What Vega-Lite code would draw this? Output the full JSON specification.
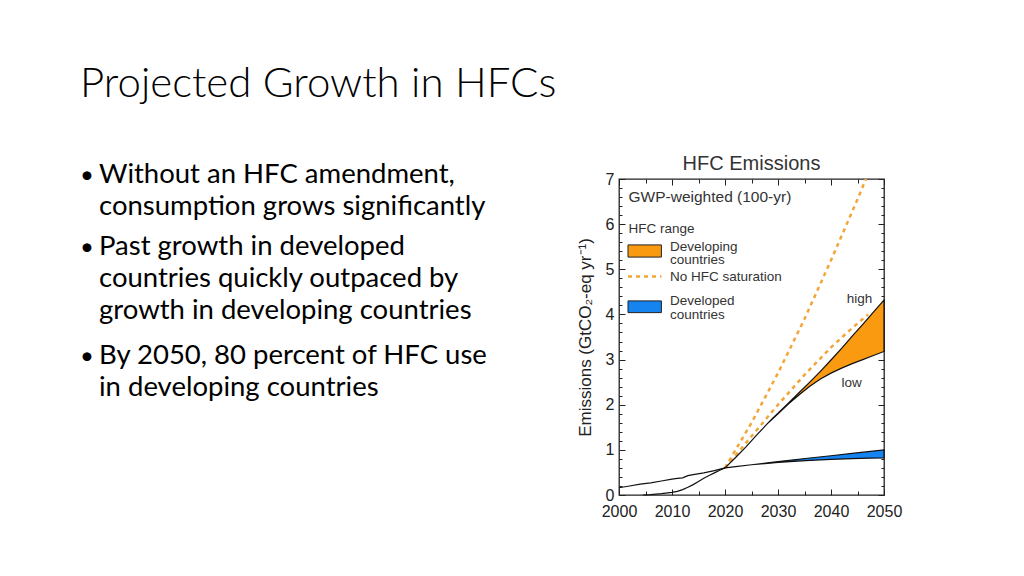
{
  "$schema": "https://vega.github.io/schema/vega-lite/v6.json",
  "background": "white",
  "padding": {"left": 80, "top": 63, "right": 10, "bottom": 10},
  "title": {"text": "Projected Growth in HFCs", "anchor": "start", "font": "Lato", "fontSize": 42, "fontWeight": 300, "color": "#000000", "offset": 47},
  "bounds": "flush",
  "spacing": 20,
  "hconcat": [
    {
      "width": 515,
      "height": 316,
      "view": {"stroke": null},
      "data": {"values": [
        {"line": 1, "text": ["Without an HFC amendment,", "consumption grows significantly"]},
        {"line": 3, "text": ["Past growth in developed", "countries quickly outpaced by", "growth in developing countries"]},
        {"line": 6, "text": ["By 2050, 80 percent of HFC use", "in developing countries"]}
      ]},
      "encoding": {
        "x": {"value": 0},
        "y": {"field": "line", "type": "quantitative", "scale": {"domain": [0.881, 9.635], "reverse": true, "nice": false, "zero": false}, "axis": null}
      },
      "layer": [
        {"mark": {"type": "text", "text": "•", "align": "left", "baseline": "alphabetic", "dx": -4, "font": "Lato", "fontSize": 24, "color": "#000000"}},
        {"mark": {"type": "text", "align": "left", "baseline": "alphabetic", "dx": 15, "font": "Lato", "fontSize": 27.5, "lineHeight": 32, "color": "#000000"},
         "encoding": {"text": {"field": "text", "type": "nominal"}}}
      ]
    },
    {
      "width": 265,
      "height": 316,
      "view": {"stroke": "#222222", "strokeWidth": 1.3},
      "title": {"text": "HFC Emissions", "font": "Liberation Sans", "fontSize": 20, "fontWeight": "normal", "color": "#333333", "offset": -3, "anchor": "middle"},
      "resolve": {"axis": {"x": "independent", "y": "independent"}},
      "layer": [
        {
          "data": {"values": [
            {"scenario": "No saturation (upper)", "year": 2020, "value": 0.6},
            {"scenario": "No saturation (upper)", "year": 2025, "value": 1.6},
            {"scenario": "No saturation (upper)", "year": 2030, "value": 2.7},
            {"scenario": "No saturation (upper)", "year": 2035, "value": 3.9},
            {"scenario": "No saturation (upper)", "year": 2040, "value": 5.2},
            {"scenario": "No saturation (upper)", "year": 2045, "value": 6.55},
            {"scenario": "No saturation (upper)", "year": 2046.6, "value": 7.0},
            {"scenario": "No saturation (lower)", "year": 2020, "value": 0.6},
            {"scenario": "No saturation (lower)", "year": 2025, "value": 1.3},
            {"scenario": "No saturation (lower)", "year": 2030, "value": 2.0},
            {"scenario": "No saturation (lower)", "year": 2035, "value": 2.66},
            {"scenario": "No saturation (lower)", "year": 2040, "value": 3.27},
            {"scenario": "No saturation (lower)", "year": 2044, "value": 3.7},
            {"scenario": "No saturation (lower)", "year": 2047, "value": 4.0}
          ]},
          "mark": {"type": "line", "color": "#F2A63A", "strokeWidth": 2.5, "strokeDash": [4, 4]},
          "encoding": {
            "x": {"field": "year", "type": "quantitative", "scale": {"domain": [2000, 2050], "nice": false, "zero": false},
                  "axis": {"orient": "bottom", "values": [2000, 2010, 2020, 2030, 2040, 2050], "format": "d", "tickSize": -6, "labelPadding": 14, "labelFlush": false, "labelFontSize": 16, "labelColor": "#222222", "title": null}},
            "y": {"field": "value", "type": "quantitative", "scale": {"domain": [0, 7], "nice": false, "zero": false},
                  "axis": {"orient": "left", "values": [0, 1, 2, 3, 4, 5, 6, 7], "tickSize": -6, "labelPadding": 11, "labelFlush": false, "labelFontSize": 16, "labelColor": "#222222", "title": "Emissions (GtCO₂-eq yr⁻¹)", "titleFontSize": 17, "titleColor": "#222222", "titlePadding": 11}},
            "detail": {"field": "scenario", "type": "nominal"}
          }
        },
        {
          "data": {"values": [
            {"year": 2020, "low": 0.6, "high": 0.6},
            {"year": 2022, "low": 0.83, "high": 0.83},
            {"year": 2024, "low": 1.07, "high": 1.07},
            {"year": 2026, "low": 1.33, "high": 1.33},
            {"year": 2028, "low": 1.58, "high": 1.58},
            {"year": 2029, "low": 1.69, "high": 1.7},
            {"year": 2030, "low": 1.8, "high": 1.81},
            {"year": 2032, "low": 2.02, "high": 2.04},
            {"year": 2034, "low": 2.22, "high": 2.27},
            {"year": 2036, "low": 2.41, "high": 2.5},
            {"year": 2038, "low": 2.57, "high": 2.74},
            {"year": 2040, "low": 2.7, "high": 2.99},
            {"year": 2042, "low": 2.81, "high": 3.25},
            {"year": 2044, "low": 2.91, "high": 3.52},
            {"year": 2046, "low": 3.0, "high": 3.78},
            {"year": 2048, "low": 3.09, "high": 4.05},
            {"year": 2050, "low": 3.18, "high": 4.32}
          ]},
          "mark": {"type": "area", "color": "#FA9A10", "stroke": "#111111", "strokeWidth": 1.2},
          "encoding": {
            "x": {"field": "year", "type": "quantitative",
                  "axis": {"orient": "top", "values": [2000, 2010, 2020, 2030, 2040, 2050], "tickSize": -6, "labels": false, "title": null}},
            "y": {"field": "low", "type": "quantitative",
                  "axis": {"orient": "right", "values": [0, 1, 2, 3, 4, 5, 6, 7], "tickSize": -6, "labels": false, "title": null}},
            "y2": {"field": "high"}
          }
        },
        {
          "data": {"values": [
            {"year": 2020, "low": 0.6, "high": 0.6},
            {"year": 2022, "low": 0.63, "high": 0.63},
            {"year": 2025, "low": 0.67, "high": 0.67},
            {"year": 2028, "low": 0.7, "high": 0.71},
            {"year": 2030, "low": 0.72, "high": 0.74},
            {"year": 2033, "low": 0.745, "high": 0.78},
            {"year": 2036, "low": 0.765, "high": 0.82},
            {"year": 2040, "low": 0.79, "high": 0.87},
            {"year": 2044, "low": 0.805, "high": 0.92},
            {"year": 2047, "low": 0.815, "high": 0.96},
            {"year": 2050, "low": 0.82, "high": 1.0}
          ]},
          "mark": {"type": "area", "color": "#1584F0", "stroke": "#111111", "strokeWidth": 1.2},
          "encoding": {
            "x": {"field": "year", "type": "quantitative",
                  "axis": {"orient": "bottom", "values": [2005, 2015, 2025, 2035, 2045], "tickSize": -4, "labels": false, "title": null}},
            "y": {"field": "low", "type": "quantitative",
                  "axis": {"orient": "left", "values": [0.2, 0.4, 0.6, 0.8, 1.2, 1.4, 1.6, 1.8, 2.2, 2.4, 2.6, 2.8, 3.2, 3.4, 3.6, 3.8, 4.2, 4.4, 4.6, 4.8, 5.2, 5.4, 5.6, 5.8, 6.2, 6.4, 6.6, 6.8], "tickSize": -3, "labels": false, "title": null}},
            "y2": {"field": "high"}
          }
        },
        {
          "data": {"values": [
            {"region": "Developed", "year": 2000, "value": 0.16},
            {"region": "Developed", "year": 2002, "value": 0.2},
            {"region": "Developed", "year": 2004, "value": 0.24},
            {"region": "Developed", "year": 2006, "value": 0.27},
            {"region": "Developed", "year": 2008, "value": 0.31},
            {"region": "Developed", "year": 2010, "value": 0.35},
            {"region": "Developed", "year": 2011, "value": 0.37},
            {"region": "Developed", "year": 2012, "value": 0.38},
            {"region": "Developed", "year": 2013, "value": 0.43},
            {"region": "Developed", "year": 2014, "value": 0.45},
            {"region": "Developed", "year": 2016, "value": 0.49},
            {"region": "Developed", "year": 2018, "value": 0.54},
            {"region": "Developed", "year": 2020, "value": 0.6},
            {"region": "Developing", "year": 2004.5, "value": 0.0},
            {"region": "Developing", "year": 2006, "value": 0.01},
            {"region": "Developing", "year": 2008, "value": 0.03},
            {"region": "Developing", "year": 2010, "value": 0.06},
            {"region": "Developing", "year": 2011, "value": 0.08},
            {"region": "Developing", "year": 2012, "value": 0.12},
            {"region": "Developing", "year": 2013, "value": 0.17},
            {"region": "Developing", "year": 2014, "value": 0.23},
            {"region": "Developing", "year": 2015, "value": 0.3},
            {"region": "Developing", "year": 2016, "value": 0.37},
            {"region": "Developing", "year": 2017, "value": 0.43},
            {"region": "Developing", "year": 2018, "value": 0.49},
            {"region": "Developing", "year": 2019, "value": 0.55},
            {"region": "Developing", "year": 2020, "value": 0.6}
          ]},
          "mark": {"type": "line", "color": "#111111", "strokeWidth": 1.2},
          "encoding": {
            "x": {"field": "year", "type": "quantitative",
                  "axis": {"orient": "top", "values": [2005, 2015, 2025, 2035, 2045], "tickSize": -4, "labels": false, "title": null}},
            "y": {"field": "value", "type": "quantitative",
                  "axis": {"orient": "right", "values": [0.2, 0.4, 0.6, 0.8, 1.2, 1.4, 1.6, 1.8, 2.2, 2.4, 2.6, 2.8, 3.2, 3.4, 3.6, 3.8, 4.2, 4.4, 4.6, 4.8, 5.2, 5.4, 5.6, 5.8, 6.2, 6.4, 6.6, 6.8], "tickSize": -3, "labels": false, "title": null}},
            "detail": {"field": "region", "type": "nominal"}
          }
        },
        {
          "data": {"values": [{}]},
          "mark": {"type": "text", "text": "GWP-weighted (100-yr)", "align": "left", "baseline": "middle", "fontSize": 15.5, "font": "Liberation Sans", "color": "#333333"},
          "encoding": {"x": {"datum": 2001.8, "type": "quantitative", "axis": null}, "y": {"datum": 6.61, "type": "quantitative", "axis": null}}
        },
        {
          "data": {"values": [{}]},
          "mark": {"type": "text", "text": "HFC range", "align": "left", "baseline": "middle", "fontSize": 13.5, "font": "Liberation Sans", "color": "#333333"},
          "encoding": {"x": {"datum": 2001.8, "type": "quantitative", "axis": null}, "y": {"datum": 5.89, "type": "quantitative", "axis": null}}
        },
        {
          "data": {"values": [{}]},
          "mark": {"type": "rect", "color": "#FA9A10", "stroke": "#222222", "strokeWidth": 1},
          "encoding": {"x": {"datum": 2001.7, "type": "quantitative", "axis": null}, "x2": {"datum": 2008.0}, "y": {"datum": 5.54, "type": "quantitative", "axis": null}, "y2": {"datum": 5.27}}
        },
        {
          "data": {"values": [{}]},
          "mark": {"type": "text", "text": ["Developing", "countries"], "align": "left", "baseline": "middle", "fontSize": 13.5, "lineHeight": 13.5, "font": "Liberation Sans", "color": "#333333"},
          "encoding": {"x": {"datum": 2009.6, "type": "quantitative", "axis": null}, "y": {"datum": 5.5, "type": "quantitative", "axis": null}}
        },
        {
          "data": {"values": [{}]},
          "mark": {"type": "rule", "color": "#F2A63A", "strokeWidth": 2.5, "strokeDash": [4, 4]},
          "encoding": {"x": {"datum": 2001.7, "type": "quantitative", "axis": null}, "x2": {"datum": 2008.0}, "y": {"datum": 4.84, "type": "quantitative", "axis": null}}
        },
        {
          "data": {"values": [{}]},
          "mark": {"type": "text", "text": "No HFC saturation", "align": "left", "baseline": "middle", "fontSize": 13.5, "font": "Liberation Sans", "color": "#333333"},
          "encoding": {"x": {"datum": 2009.6, "type": "quantitative", "axis": null}, "y": {"datum": 4.84, "type": "quantitative", "axis": null}}
        },
        {
          "data": {"values": [{}]},
          "mark": {"type": "rect", "color": "#1584F0", "stroke": "#222222", "strokeWidth": 1},
          "encoding": {"x": {"datum": 2001.7, "type": "quantitative", "axis": null}, "x2": {"datum": 2008.0}, "y": {"datum": 4.3, "type": "quantitative", "axis": null}, "y2": {"datum": 4.04}}
        },
        {
          "data": {"values": [{}]},
          "mark": {"type": "text", "text": ["Developed", "countries"], "align": "left", "baseline": "middle", "fontSize": 13.5, "lineHeight": 13.5, "font": "Liberation Sans", "color": "#333333"},
          "encoding": {"x": {"datum": 2009.6, "type": "quantitative", "axis": null}, "y": {"datum": 4.29, "type": "quantitative", "axis": null}}
        },
        {
          "data": {"values": [{}]},
          "mark": {"type": "text", "text": "high", "align": "center", "baseline": "middle", "fontSize": 13.5, "font": "Liberation Sans", "color": "#333333"},
          "encoding": {"x": {"datum": 2045.4, "type": "quantitative", "axis": null}, "y": {"datum": 4.34, "type": "quantitative", "axis": null}}
        },
        {
          "data": {"values": [{}]},
          "mark": {"type": "text", "text": "low", "align": "center", "baseline": "middle", "fontSize": 13.5, "font": "Liberation Sans", "color": "#333333"},
          "encoding": {"x": {"datum": 2043.9, "type": "quantitative", "axis": null}, "y": {"datum": 2.48, "type": "quantitative", "axis": null}}
        }
      ]
    }
  ],
  "config": {
    "font": "Liberation Sans",
    "axis": {"grid": false, "domain": false, "tickColor": "#222222", "tickWidth": 1, "labelColor": "#222222", "labelFont": "Liberation Sans", "labelFontSize": 16, "titleColor": "#222222", "titleFont": "Liberation Sans", "titleFontSize": 17, "titleFontWeight": "normal"}
  }
}
